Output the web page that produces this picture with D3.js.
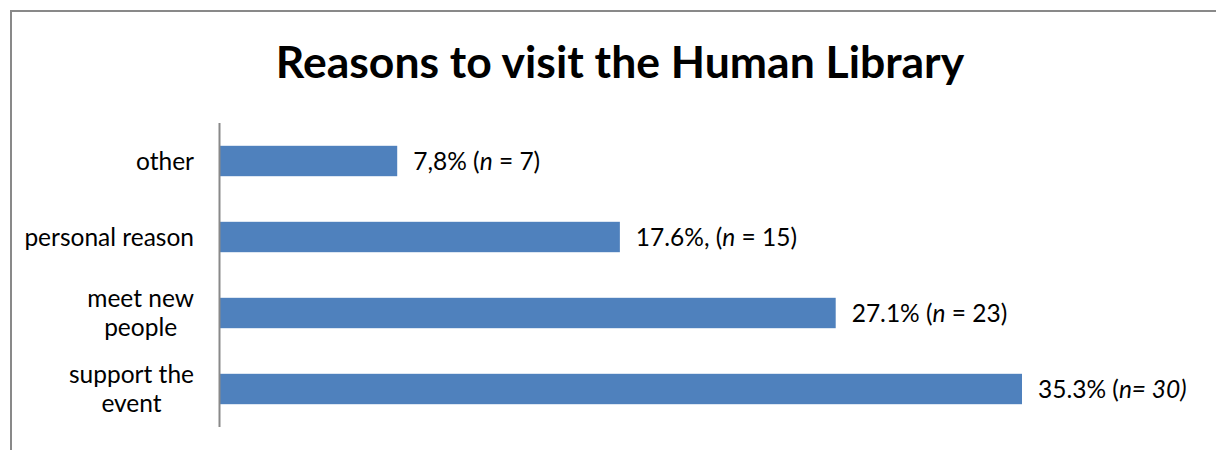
<!DOCTYPE html>
<html>
<head>
<meta charset="utf-8">
<script src="https://cdn.jsdelivr.net/npm/d3@7"></script>
<style>
  html, body { margin: 0; padding: 0; background: #fff; }
  svg { display: block; }
  text { font-family: Lato, "Open Sans", sans-serif; fill: #000; }
</style>
</head>
<body>
<svg id="chart" width="1216" height="450"></svg>
<script>
// Survey answers, top to bottom
const categories = ["other", "personal reason", "meet new people", "support the event"];
const categoryLines = [["other"], ["personal reason"], ["meet new", "people"], ["support the", "event"]];
const percents = [7.8, 17.6, 27.1, 35.3];
// Data label parts: [prefix, italic part, suffix]
const labelParts = [
  ["7,8% (", "n", " = 7)"],
  ["17.6%, (", "n", " = 15)"],
  ["27.1% (", "n", " = 23)"],
  ["35.3% (", "n= 30)", ""]
];
const title = "Reasons to visit the Human Library";

const svg = d3.select("#chart");

// chart frame
svg.append("path")
  .attr("d", "M11,451 L11,11 L1217,11")
  .attr("fill", "none")
  .attr("stroke", "#898989")
  .attr("stroke-width", 2);

svg.append("text")
  .attr("x", 620)
  .attr("y", 78)
  .attr("text-anchor", "middle")
  .attr("font-size", 44.5)
  .attr("font-weight", "bold")
  .text(title);

const plot = { left: 220, top: 123, bottom: 427 };

const x = d3.scaleLinear().domain([0, 35.3]).range([plot.left, 1022]);
const y = d3.scaleBand().domain(categories).range([plot.top, plot.bottom]).paddingInner(0.6).paddingOuter(0.3);

const data = categories.map((c, i) => ({ c, v: percents[i], lines: categoryLines[i], parts: labelParts[i] }));

svg.selectAll("rect.bar")
  .data(data)
  .join("rect")
  .attr("class", "bar")
  .attr("x", x(0))
  .attr("y", d => y(d.c))
  .attr("width", d => x(d.v) - x(0))
  .attr("height", y.bandwidth())
  .attr("fill", "#4f81bd");

// category axis line
svg.append("line")
  .attr("x1", plot.left - 0.5).attr("x2", plot.left - 0.5)
  .attr("y1", plot.top).attr("y2", plot.bottom)
  .attr("stroke", "#898989")
  .attr("stroke-width", 2);

// category labels: lines centered within a block right-aligned to the axis
const labelRight = 194;
const fs = 24.5;
const lineH = 29;
data.forEach(d => {
  const g = svg.append("g");
  const cy = y(d.c) + y.bandwidth() / 2;
  const texts = d.lines.map((ln, k) => g.append("text")
    .attr("font-size", fs)
    .attr("text-anchor", "middle")
    .attr("y", cy + (k - (d.lines.length - 1) / 2) * lineH)
    .attr("dy", "0.35em")
    .text(ln));
  const maxW = d3.max(texts, t => t.node().getComputedTextLength());
  texts.forEach(t => t.attr("x", labelRight - maxW / 2));
});

// value labels
svg.selectAll("text.val")
  .data(data)
  .join("text")
  .attr("class", "val")
  .attr("x", d => x(d.v) + 16)
  .attr("y", d => y(d.c) + y.bandwidth() / 2)
  .attr("dy", "0.35em")
  .attr("font-size", fs)
  .each(function(d) {
    const t = d3.select(this);
    t.append("tspan").text(d.parts[0]);
    t.append("tspan").attr("font-style", "italic").text(d.parts[1]);
    if (d.parts[2]) t.append("tspan").text(d.parts[2]);
  });
</script>
</body>
</html>
